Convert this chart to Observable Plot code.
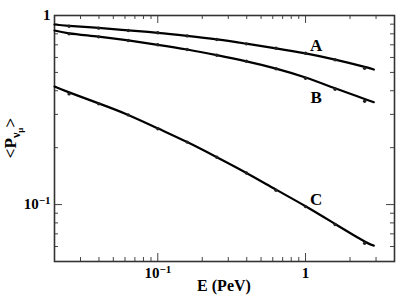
<!DOCTYPE html>
<html><head><meta charset="utf-8">
<script src="https://cdn.jsdelivr.net/npm/d3@7"></script>
<script src="https://cdn.jsdelivr.net/npm/@observablehq/plot@0.6"></script>
<style>body{margin:0;background:#fff} svg{display:block}</style>
</head><body><div id="chart"></div>
<script>
// ---- data ----
const seriesNames = ["A", "B", "C"];
const energies = [0.0251, 0.0398, 0.0631, 0.1, 0.158, 0.251, 0.398, 0.631, 1.0, 1.585, 2.512];
const pointsA = [0.878, 0.857, 0.833, 0.810, 0.780, 0.746, 0.708, 0.671, 0.632, 0.583, 0.526];
const pointsB = [0.800, 0.771, 0.737, 0.700, 0.661, 0.616, 0.573, 0.523, 0.466, 0.407, 0.352];
const pointsC = [0.385, 0.341, 0.298, 0.252, 0.214, 0.178, 0.147, 0.119, 0.0976, 0.0784, 0.0624];

const lineEnergies = [0.02, 0.0251, 0.0398, 0.0631, 0.1, 0.158, 0.251, 0.398, 0.631, 1.0, 1.585, 2.512, 2.9];
const lineA = [0.896, 0.882, 0.860, 0.835, 0.810, 0.780, 0.747, 0.709, 0.670, 0.630, 0.584, 0.535, 0.518];
const lineB = [0.833, 0.805, 0.773, 0.738, 0.700, 0.661, 0.617, 0.572, 0.524, 0.470, 0.412, 0.362, 0.348];
const lineC = [0.421, 0.392, 0.343, 0.298, 0.253, 0.214, 0.178, 0.147, 0.120, 0.0980, 0.0790, 0.0638, 0.0607];

const labelEnergy = [1.18, 1.18, 1.18];
const labelP = [0.69, 0.37, 0.106];

const xMajorTicks = [0.1, 1];
const xTickLabels = ["10^-1", "1"];
const xMinorTicks = [0.03, 0.04, 0.05, 0.06, 0.07, 0.08, 0.09, 0.2, 0.3, 0.4, 0.5, 0.6, 0.7, 0.8, 0.9, 2, 3];
const yMajorTicks = [0.1, 1];
const yTickLabels = ["10^-1", "1"];
const yMinorTicks = [0.06, 0.07, 0.08, 0.09, 0.2, 0.3, 0.4, 0.5, 0.6, 0.7, 0.8, 0.9];

const xTitle = "E (PeV)";

// ---- tables ----
const pointSets = [pointsA, pointsB, pointsC];
const lineSets = [lineA, lineB, lineC];
const pts = seriesNames.flatMap((s, k) => energies.map((e, i) => ({s, e, p: pointSets[k][i]})));
const lns = seriesNames.flatMap((s, k) => lineEnergies.map((e, i) => ({s, e, p: lineSets[k][i]})));
const labels = seriesNames.map((s, i) => ({s, e: labelEnergy[i], p: labelP[i]}));
const fmt = (lab, ticks) => d => lab[ticks.indexOf(d)];

const font = "'Liberation Serif', 'Times New Roman', serif";
const tickColor = "#444";
const W = 415, H = 300, mL = 54, mR = 21, mT = 15, mB = 39;
const fw = W - mL - mR, fh = H - mT - mB;
const major = 8, minor = 4;

const chart = Plot.plot({
  width: W, height: H,
  marginLeft: mL, marginRight: mR, marginTop: mT, marginBottom: mB,
  style: {fontFamily: font, fontWeight: "bold", fontSize: "15px", color: "#000", background: "#fff"},
  x: {type: "log", domain: [0.02, 4], label: null},
  y: {type: "log", domain: [0.05, 1], label: null},
  marks: [
    // inward ticks on all four sides
    Plot.ruleX(xMinorTicks, {insetTop: fh - minor, stroke: tickColor, strokeWidth: 1}),
    Plot.ruleX(xMinorTicks, {insetBottom: fh - minor, stroke: tickColor, strokeWidth: 1}),
    Plot.ruleX(xMajorTicks, {insetTop: fh - major, stroke: tickColor, strokeWidth: 1}),
    Plot.ruleX(xMajorTicks, {insetBottom: fh - major, stroke: tickColor, strokeWidth: 1}),
    Plot.ruleY(yMinorTicks, {insetRight: fw - minor, stroke: tickColor, strokeWidth: 1}),
    Plot.ruleY(yMinorTicks, {insetLeft: fw - minor, stroke: tickColor, strokeWidth: 1}),
    Plot.ruleY(yMajorTicks, {insetRight: fw - major, stroke: tickColor, strokeWidth: 1}),
    Plot.ruleY(yMajorTicks, {insetLeft: fw - major, stroke: tickColor, strokeWidth: 1}),
    // tick labels
    Plot.axisX(xMajorTicks, {anchor: "bottom", tickSize: 0, tickPadding: 6, tickFormat: fmt(xTickLabels, xMajorTicks), fontSize: 15, fill: "#000", label: null}),
    Plot.axisY(yMajorTicks, {anchor: "left", tickSize: 0, tickPadding: 4, tickFormat: fmt(yTickLabels, yMajorTicks), fontSize: 15, fill: "#000", label: null}),
    Plot.frame({stroke: "#333", strokeWidth: 1.6}),
    Plot.line(lns, {x: "e", y: "p", z: "s", curve: "natural", stroke: "#000", strokeWidth: 2.2}),
    Plot.dot(pts, {x: "e", y: "p", r: 1.7, fill: "#222", stroke: "none"}),
    Plot.text(labels, {x: "e", y: "p", text: "s", fontSize: 17, fontWeight: "bold", fill: "#000"})
  ]
});

const svg = d3.select(chart);
// superscripts for 10^-1
svg.selectAll("text").filter(function() { return this.textContent === "10^-1"; }).each(function() {
  const t = d3.select(this);
  t.text("");
  t.append("tspan").text("10");
  t.append("tspan").attr("dy", "-0.45em").attr("font-size", "11px").text("\u22121");
});
// x title
svg.append("text")
  .attr("x", 224).attr("y", 291)
  .attr("text-anchor", "middle")
  .attr("font-family", font).attr("font-weight", "bold").attr("font-size", "16px").attr("fill", "#000")
  .text(xTitle);
// y title <P_{ν_μ}>
const yt = svg.append("text")
  .attr("transform", "translate(16,138) rotate(-90)")
  .attr("text-anchor", "middle")
  .attr("font-family", font).attr("font-weight", "bold").attr("font-size", "17px").attr("fill", "#000");
yt.append("tspan").text("<P");
yt.append("tspan").attr("dy", 4).attr("font-size", "12px").text("\u03BD");
yt.append("tspan").attr("dy", 3).attr("font-size", "9px").text("\u03BC");
yt.append("tspan").attr("dy", -7).attr("font-size", "17px").text(">");

document.getElementById("chart").appendChild(chart);
</script>
</body></html>
